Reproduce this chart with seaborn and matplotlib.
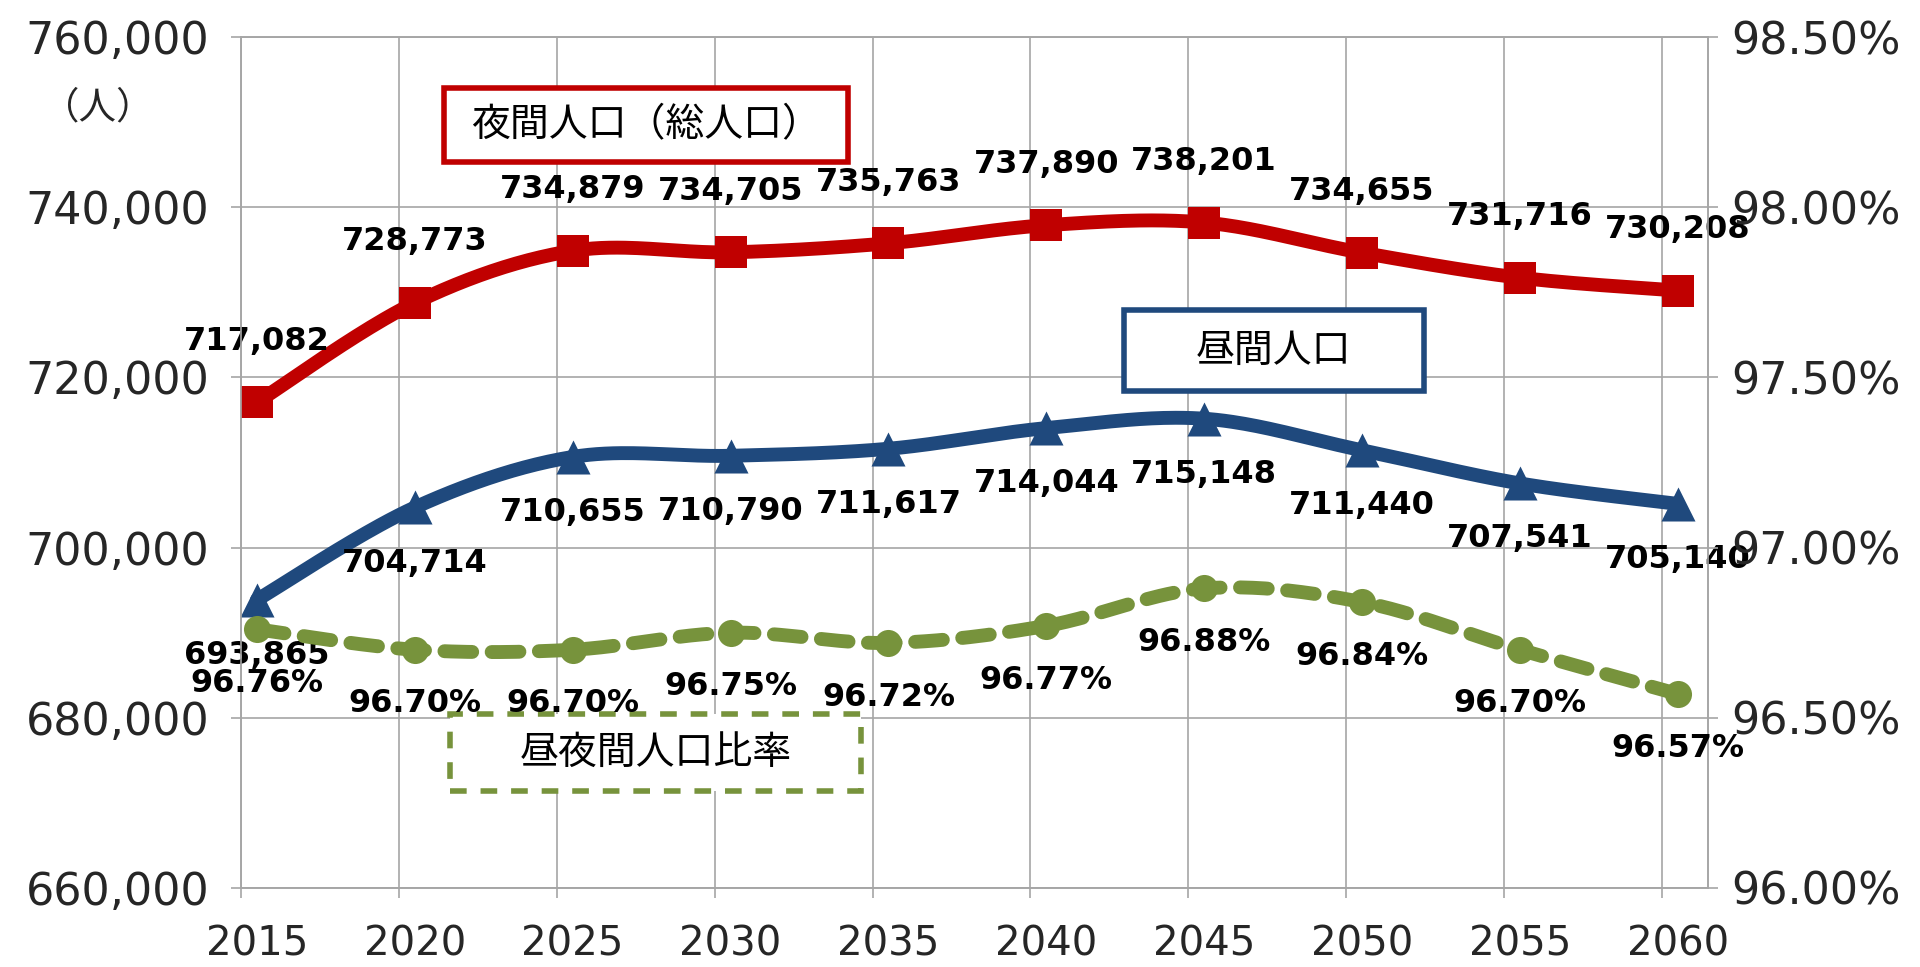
import numpy as np
import pandas as pd
import seaborn as sns
import matplotlib.pyplot as plt
from matplotlib.patches import Rectangle
from matplotlib.ticker import FuncFormatter, FixedLocator

years = [2015, 2020, 2025, 2030, 2035, 2040, 2045, 2050, 2055, 2060]
night_pop = [717082, 728773, 734879, 734705, 735763, 737890, 738201, 734655, 731716, 730208]
day_pop = [693865, 704714, 710655, 710790, 711617, 714044, 715148, 711440, 707541, 705140]
ratio = [96.76, 96.70, 96.70, 96.75, 96.72, 96.77, 96.88, 96.84, 96.70, 96.57]

RED = "#C00000"
BLUE = "#1F497D"
GREEN = "#77933C"
GRID = "#A6A6A6"
TXT = "#262626"

sns.set_theme(style="white")
plt.rcParams['font.family'] = ['DejaVu Sans', 'Noto Sans CJK JP']


def smooth(x, y, n=40):
    # Excel-like smoothed line (Bezier with Catmull-Rom control points)
    x = np.asarray(x, float)
    y = np.asarray(y, float)
    px = np.concatenate([[x[0]], x, [x[-1]]])
    py = np.concatenate([[y[0]], y, [y[-1]]])
    t = np.linspace(0, 1, n)[:-1]
    xs, ys = [], []
    for i in range(1, len(px) - 2):
        p0 = np.array([px[i], py[i]])
        p3 = np.array([px[i + 1], py[i + 1]])
        c1 = p0 + (p3 - np.array([px[i - 1], py[i - 1]])) / 6
        c2 = p3 - (np.array([px[i + 2], py[i + 2]]) - p0) / 6
        b = ((1 - t) ** 3)[:, None] * p0 + (3 * (1 - t) ** 2 * t)[:, None] * c1 \
            + (3 * (1 - t) * t ** 2)[:, None] * c2 + (t ** 3)[:, None] * p3
        xs.extend(b[:, 0])
        ys.extend(b[:, 1])
    xs.append(x[-1])
    ys.append(y[-1])
    return np.array(xs), np.array(ys)


fig = plt.figure(figsize=(19.2, 9.67), dpi=100)
ax = fig.add_axes([0.1256, 0.0817, 0.764, 0.880])
ax2 = ax.twinx()

# night / day population (left axis)
sx, sy = smooth(years, night_pop)
sns.lineplot(x=sx, y=sy, ax=ax, color=RED, linewidth=10, estimator=None, sort=False)
sns.scatterplot(x=years, y=night_pop, ax=ax, marker='s', s=560, color=RED, linewidth=0, zorder=4)
sx, sy = smooth(years, day_pop)
sns.lineplot(x=sx, y=sy, ax=ax, color=BLUE, linewidth=10, estimator=None, sort=False)
sns.scatterplot(x=years, y=day_pop, ax=ax, marker='^', s=600, color=BLUE, linewidth=0, zorder=4)

# ratio (right axis)
sx, sy = smooth(years, ratio)
sns.lineplot(x=sx, y=sy, ax=ax2, color=GREEN, linewidth=10, estimator=None, sort=False,
             linestyle=(0, (2.0, 1.4)), dash_capstyle='round')
sns.scatterplot(x=years, y=ratio, ax=ax2, marker='o', s=380, color=GREEN, linewidth=0, zorder=4)

# data labels
lab_kw = dict(textcoords='offset points', ha='center', va='center',
              fontsize=23, fontweight='bold', color='black', zorder=6)
for xv, yv in zip(years, night_pop):
    ax.annotate(f"{yv:,}", (xv, yv), xytext=(0, 44), **lab_kw)
for xv, yv in zip(years, day_pop):
    ax.annotate(f"{yv:,}", (xv, yv), xytext=(0, -40), **lab_kw)
for xv, yv in zip(years, ratio):
    ax2.annotate(f"{yv:.2f}%", (xv, yv), xytext=(0, -39), **lab_kw)

# axes ranges and ticks
ax.set_xlim(2014.5, 2060.96)
ax.set_ylim(660000, 760000)
ax2.set_ylim(96.0, 98.5)
ax.set_yticks(np.arange(660000, 760001, 20000))
ax2.set_yticks(np.arange(96.0, 98.51, 0.5))
ax.yaxis.set_major_formatter(FuncFormatter(lambda v, p: f"{int(v):,}"))
ax2.yaxis.set_major_formatter(FuncFormatter(lambda v, p: f"{v:.2f}%"))
ax.set_xticks(years)
ax.set_xticklabels([str(y) for y in years])
ax.xaxis.set_minor_locator(FixedLocator(np.arange(2014.5, 2061, 5)))

ax.grid(axis='y', color=GRID, linewidth=1.2)
ax.grid(axis='x', which='minor', color=GRID, linewidth=1.2)
ax.grid(axis='x', which='major', visible=False)
ax.set_axisbelow(True)

ax.tick_params(axis='y', direction='out', length=7, width=1.2, color=GRID, pad=16,
               labelsize=32, labelcolor=TXT, left=True)
ax.tick_params(axis='x', which='major', length=0, pad=26, labelsize=29, labelcolor=TXT)
ax.tick_params(axis='x', which='minor', direction='out', length=7, width=1.2, color=GRID, bottom=True)
ax2.tick_params(axis='y', direction='out', length=7, width=1.2, color=GRID, pad=10,
                labelsize=32, labelcolor=TXT, right=True)
for a in (ax, ax2):
    for sp in a.spines.values():
        sp.set_color(GRID)
        sp.set_linewidth(1.2)
    a.set_xlabel("")
    a.set_ylabel("")

# unit and series boxes
ax.text(-0.0977, 0.9165, "（人）", transform=ax.transAxes, ha='center', va='center',
        fontsize=27, color=TXT, family=['Noto Sans CJK JP', 'DejaVu Sans'])

boxes = [
    ("夜間人口（総人口）", 0.1386, 0.853, 0.2754, 0.0866, RED, '-'),
    ("昼間人口", 0.6018, 0.584, 0.2045, 0.095, BLUE, '-'),
    ("昼夜間人口比率", 0.1427, 0.1137, 0.2797, 0.0906, GREEN, (0, (3, 2.5))),
]
for label, bx, by, bw, bh, col, ls in boxes:
    ax2.add_patch(Rectangle((bx, by), bw, bh, transform=ax2.transAxes, facecolor='white',
                            edgecolor=col, linewidth=4, linestyle=ls, zorder=3))
    ax2.text(bx + bw / 2, by + bh / 2, label, transform=ax2.transAxes, ha='center', va='center',
             fontsize=28, color='black', zorder=5, family=['Noto Sans CJK JP', 'DejaVu Sans'])

fig.savefig("out.png", dpi=100)
